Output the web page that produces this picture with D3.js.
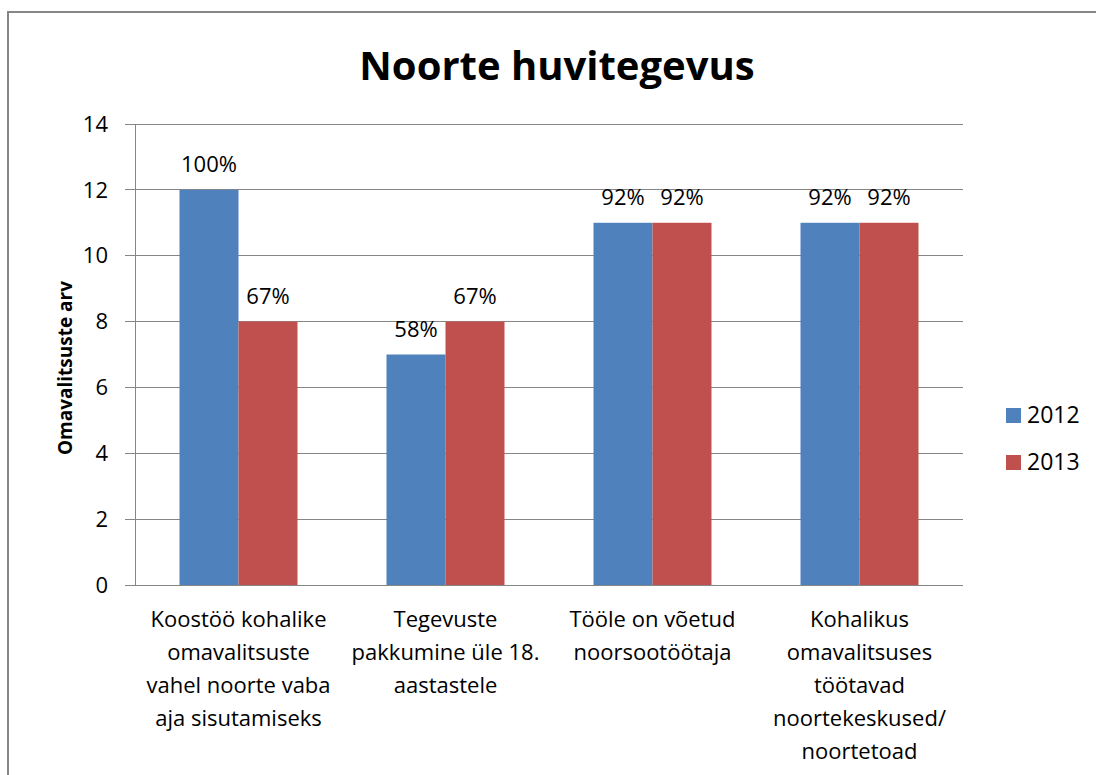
<!DOCTYPE html>
<html>
<head>
<meta charset="utf-8">
<script src="https://cdn.jsdelivr.net/npm/d3@7"></script>
<style>
  body { margin: 0; background: #fff; }
  svg { display: block; font-family: "Open Sans", Lato, sans-serif; }
</style>
</head>
<body>
<script>
// chart data
const categories = [
  ["Koostöö kohalike", "omavalitsuste", "vahel noorte vaba", "aja sisutamiseks"],
  ["Tegevuste", "pakkumine üle 18.", "aastastele"],
  ["Tööle on võetud", "noorsootöötaja"],
  ["Kohalikus", "omavalitsuses", "töötavad", "noortekeskused/", "noortetoad"]
];
const seriesNames = ["2012", "2013"];
const values2012 = [12, 7, 11, 11];
const values2013 = [8, 8, 11, 11];
const labels2012 = ["100%", "58%", "92%", "92%"];
const labels2013 = ["67%", "67%", "92%", "92%"];
const yTicks = [0, 2, 4, 6, 8, 10, 12, 14];
const colors = ["#4F81BD", "#C0504D"];

const width = 1096;
const height = 775;
const margin = { top: 124, right: 133, bottom: 190, left: 135 };

const svg = d3.select("body").append("svg")
  .attr("width", width)
  .attr("height", height);

// outer chart frame (runs off the right and bottom edge)
svg.append("rect")
  .attr("x", 8).attr("y", 12)
  .attr("width", width + 20).attr("height", height + 20)
  .attr("fill", "#fff")
  .attr("stroke", "#868686")
  .attr("stroke-width", 2);

const x = d3.scaleBand()
  .domain(d3.range(categories.length))
  .range([margin.left, width - margin.right])
  .paddingInner(0.43)
  .paddingOuter(0.215);

const xSub = d3.scaleBand()
  .domain(seriesNames)
  .range([0, x.bandwidth()]);

const y = d3.scaleLinear()
  .domain([0, 14])
  .range([height - margin.bottom, margin.top]);

// gridlines
svg.append("g")
  .selectAll("line")
  .data(yTicks)
  .enter().append("line")
  .attr("x1", margin.left - 10)
  .attr("x2", width - margin.right)
  .attr("y1", d => y(d))
  .attr("y2", d => y(d))
  .attr("stroke", "#868686")
  .attr("stroke-width", 1)
  .attr("shape-rendering", "crispEdges");

// y axis line + labels
svg.append("line")
  .attr("x1", margin.left).attr("x2", margin.left)
  .attr("y1", y(14)).attr("y2", y(0))
  .attr("stroke", "#868686")
  .attr("shape-rendering", "crispEdges");

svg.append("g")
  .selectAll("text")
  .data(yTicks)
  .enter().append("text")
  .attr("x", margin.left - 27)
  .attr("y", d => y(d))
  .attr("dy", "0.35em")
  .attr("text-anchor", "end")
  .attr("font-size", 22)
  .attr("fill", "#000")
  .text(d => d);

// bars
const rows = categories.map((c, i) => ({
  i,
  vals: [
    { s: seriesNames[0], v: values2012[i], label: labels2012[i] },
    { s: seriesNames[1], v: values2013[i], label: labels2013[i] }
  ]
}));

const group = svg.append("g")
  .selectAll("g")
  .data(rows)
  .enter().append("g")
  .attr("transform", d => `translate(${x(d.i)},0)`);

group.selectAll("rect")
  .data(d => d.vals)
  .enter().append("rect")
  .attr("x", d => xSub(d.s))
  .attr("y", d => y(d.v))
  .attr("width", xSub.bandwidth())
  .attr("height", d => y(0) - y(d.v))
  .attr("fill", (d, j) => colors[j]);

group.selectAll("text")
  .data(d => d.vals)
  .enter().append("text")
  .attr("x", d => xSub(d.s) + xSub.bandwidth() / 2)
  .attr("y", d => y(d.v) - 18)
  .attr("text-anchor", "middle")
  .attr("font-size", 22)
  .attr("fill", "#000")
  .text(d => d.label);

// x axis baseline
svg.append("line")
  .attr("x1", margin.left).attr("x2", width - margin.right)
  .attr("y1", y(0)).attr("y2", y(0))
  .attr("stroke", "#868686")
  .attr("shape-rendering", "crispEdges");

// category labels
const catLabels = svg.append("g")
  .selectAll("text")
  .data(categories)
  .enter().append("text")
  .attr("text-anchor", "middle")
  .attr("font-size", 22)
  .attr("fill", "#000");

catLabels.selectAll("tspan")
  .data((d, i) => d.map(line => ({ line, i })))
  .enter().append("tspan")
  .attr("x", d => x(d.i) + x.bandwidth() / 2)
  .attr("y", (d, k) => 627 + k * 33)
  .text(d => d.line);

// title
svg.append("text")
  .attr("x", 557)
  .attr("y", 80)
  .attr("text-anchor", "middle")
  .attr("font-size", 40)
  .attr("font-weight", "bold")
  .text("Noorte huvitegevus");

// y axis title
svg.append("text")
  .attr("transform", "translate(72,368) rotate(-90)")
  .attr("text-anchor", "middle")
  .attr("font-size", 19)
  .attr("font-weight", "bold")
  .text("Omavalitsuste arv");

// legend
const legend = svg.append("g")
  .selectAll("g")
  .data(seriesNames)
  .enter().append("g")
  .attr("transform", (d, i) => `translate(1006,${408 + i * 47})`);

legend.append("rect")
  .attr("width", 15).attr("height", 15)
  .attr("fill", (d, i) => colors[i]);

legend.append("text")
  .attr("x", 21)
  .attr("y", 15)
  .attr("font-size", 23)
  .text(d => d);
</script>
</body>
</html>
